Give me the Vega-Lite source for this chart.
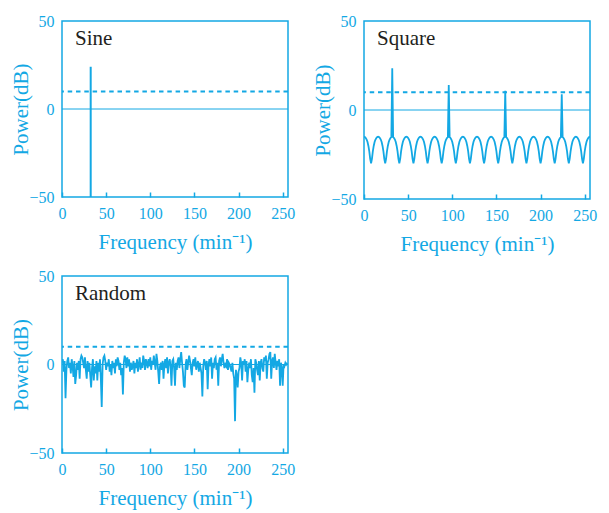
{
  "$schema": "https://vega.github.io/schema/vega-lite/v6.json",
  "padding": {"left": 10, "top": 12, "right": 5, "bottom": 5},
  "background": "white",
  "columns": 2,
  "spacing": {"row": 12, "column": 16},
  "datasets": {
    "sine": [{"f": 32.5, "p": -60}, {"f": 32.5, "p": 24}],
    "square": [
      {"f":0,"p":-15},{"f":1,"p":-15.2},{"f":2,"p":-15.7},{"f":3,"p":-16.6},{"f":4,"p":-18},{"f":5,"p":-20.2},{"f":6,"p":-23.3},{"f":7,"p":-27.5},{"f":8,"p":-30},{"f":9,"p":-27.5},{"f":10,"p":-23.3},{"f":11,"p":-20.2},{"f":12,"p":-18},{"f":13,"p":-16.6},{"f":14,"p":-15.7},{"f":15,"p":-15.2},
      {"f":16,"p":-15},{"f":17,"p":-15.2},{"f":18,"p":-15.7},{"f":19,"p":-16.6},{"f":20,"p":-18},{"f":21,"p":-20.2},{"f":22,"p":-23.3},{"f":23,"p":-27.5},{"f":24,"p":-30},{"f":25,"p":-27.5},{"f":26,"p":-23.3},{"f":27,"p":-20.2},{"f":28,"p":-18},{"f":29,"p":-16.6},{"f":30,"p":-15.7},{"f":31,"p":-15.2},
      {"f":32,"p":23.5},{"f":33,"p":-15.2},{"f":34,"p":-15.7},{"f":35,"p":-16.6},{"f":36,"p":-18},{"f":37,"p":-20.2},{"f":38,"p":-23.3},{"f":39,"p":-27.5},{"f":40,"p":-30},{"f":41,"p":-27.5},{"f":42,"p":-23.3},{"f":43,"p":-20.2},{"f":44,"p":-18},{"f":45,"p":-16.6},{"f":46,"p":-15.7},{"f":47,"p":-15.2},
      {"f":48,"p":-15},{"f":49,"p":-15.2},{"f":50,"p":-15.7},{"f":51,"p":-16.6},{"f":52,"p":-18},{"f":53,"p":-20.2},{"f":54,"p":-23.3},{"f":55,"p":-27.5},{"f":56,"p":-30},{"f":57,"p":-27.5},{"f":58,"p":-23.3},{"f":59,"p":-20.2},{"f":60,"p":-18},{"f":61,"p":-16.6},{"f":62,"p":-15.7},{"f":63,"p":-15.2},
      {"f":64,"p":-15},{"f":65,"p":-15.2},{"f":66,"p":-15.7},{"f":67,"p":-16.6},{"f":68,"p":-18},{"f":69,"p":-20.2},{"f":70,"p":-23.3},{"f":71,"p":-27.5},{"f":72,"p":-30},{"f":73,"p":-27.5},{"f":74,"p":-23.3},{"f":75,"p":-20.2},{"f":76,"p":-18},{"f":77,"p":-16.6},{"f":78,"p":-15.7},{"f":79,"p":-15.2},
      {"f":80,"p":-15},{"f":81,"p":-15.2},{"f":82,"p":-15.7},{"f":83,"p":-16.6},{"f":84,"p":-18},{"f":85,"p":-20.2},{"f":86,"p":-23.3},{"f":87,"p":-27.5},{"f":88,"p":-30},{"f":89,"p":-27.5},{"f":90,"p":-23.3},{"f":91,"p":-20.2},{"f":92,"p":-18},{"f":93,"p":-16.6},{"f":94,"p":-15.7},{"f":95,"p":-15.2},
      {"f":96,"p":14},{"f":97,"p":-15.2},{"f":98,"p":-15.7},{"f":99,"p":-16.6},{"f":100,"p":-18},{"f":101,"p":-20.2},{"f":102,"p":-23.3},{"f":103,"p":-27.5},{"f":104,"p":-30},{"f":105,"p":-27.5},{"f":106,"p":-23.3},{"f":107,"p":-20.2},{"f":108,"p":-18},{"f":109,"p":-16.6},{"f":110,"p":-15.7},{"f":111,"p":-15.2},
      {"f":112,"p":-15},{"f":113,"p":-15.2},{"f":114,"p":-15.7},{"f":115,"p":-16.6},{"f":116,"p":-18},{"f":117,"p":-20.2},{"f":118,"p":-23.3},{"f":119,"p":-27.5},{"f":120,"p":-30},{"f":121,"p":-27.5},{"f":122,"p":-23.3},{"f":123,"p":-20.2},{"f":124,"p":-18},{"f":125,"p":-16.6},{"f":126,"p":-15.7},{"f":127,"p":-15.2},
      {"f":128,"p":-15},{"f":129,"p":-15.2},{"f":130,"p":-15.7},{"f":131,"p":-16.6},{"f":132,"p":-18},{"f":133,"p":-20.2},{"f":134,"p":-23.3},{"f":135,"p":-27.5},{"f":136,"p":-30},{"f":137,"p":-27.5},{"f":138,"p":-23.3},{"f":139,"p":-20.2},{"f":140,"p":-18},{"f":141,"p":-16.6},{"f":142,"p":-15.7},{"f":143,"p":-15.2},
      {"f":144,"p":-15},{"f":145,"p":-15.2},{"f":146,"p":-15.7},{"f":147,"p":-16.6},{"f":148,"p":-18},{"f":149,"p":-20.2},{"f":150,"p":-23.3},{"f":151,"p":-27.5},{"f":152,"p":-30},{"f":153,"p":-27.5},{"f":154,"p":-23.3},{"f":155,"p":-20.2},{"f":156,"p":-18},{"f":157,"p":-16.6},{"f":158,"p":-15.7},{"f":159,"p":-15.2},
      {"f":160,"p":10.8},{"f":161,"p":-15.2},{"f":162,"p":-15.7},{"f":163,"p":-16.6},{"f":164,"p":-18},{"f":165,"p":-20.2},{"f":166,"p":-23.3},{"f":167,"p":-27.5},{"f":168,"p":-30},{"f":169,"p":-27.5},{"f":170,"p":-23.3},{"f":171,"p":-20.2},{"f":172,"p":-18},{"f":173,"p":-16.6},{"f":174,"p":-15.7},{"f":175,"p":-15.2},
      {"f":176,"p":-15},{"f":177,"p":-15.2},{"f":178,"p":-15.7},{"f":179,"p":-16.6},{"f":180,"p":-18},{"f":181,"p":-20.2},{"f":182,"p":-23.3},{"f":183,"p":-27.5},{"f":184,"p":-30},{"f":185,"p":-27.5},{"f":186,"p":-23.3},{"f":187,"p":-20.2},{"f":188,"p":-18},{"f":189,"p":-16.6},{"f":190,"p":-15.7},{"f":191,"p":-15.2},
      {"f":192,"p":-15},{"f":193,"p":-15.2},{"f":194,"p":-15.7},{"f":195,"p":-16.6},{"f":196,"p":-18},{"f":197,"p":-20.2},{"f":198,"p":-23.3},{"f":199,"p":-27.5},{"f":200,"p":-30},{"f":201,"p":-27.5},{"f":202,"p":-23.3},{"f":203,"p":-20.2},{"f":204,"p":-18},{"f":205,"p":-16.6},{"f":206,"p":-15.7},{"f":207,"p":-15.2},
      {"f":208,"p":-15},{"f":209,"p":-15.2},{"f":210,"p":-15.7},{"f":211,"p":-16.6},{"f":212,"p":-18},{"f":213,"p":-20.2},{"f":214,"p":-23.3},{"f":215,"p":-27.5},{"f":216,"p":-30},{"f":217,"p":-27.5},{"f":218,"p":-23.3},{"f":219,"p":-20.2},{"f":220,"p":-18},{"f":221,"p":-16.6},{"f":222,"p":-15.7},{"f":223,"p":-15.2},
      {"f":224,"p":8.8},{"f":225,"p":-15.2},{"f":226,"p":-15.7},{"f":227,"p":-16.6},{"f":228,"p":-18},{"f":229,"p":-20.2},{"f":230,"p":-23.3},{"f":231,"p":-27.5},{"f":232,"p":-30},{"f":233,"p":-27.5},{"f":234,"p":-23.3},{"f":235,"p":-20.2},{"f":236,"p":-18},{"f":237,"p":-16.6},{"f":238,"p":-15.7},{"f":239,"p":-15.2},
      {"f":240,"p":-15},{"f":241,"p":-15.2},{"f":242,"p":-15.7},{"f":243,"p":-16.6},{"f":244,"p":-18},{"f":245,"p":-20.2},{"f":246,"p":-23.3},{"f":247,"p":-27.5},{"f":248,"p":-30},{"f":249,"p":-27.5},{"f":250,"p":-23.3},{"f":251,"p":-20.2},{"f":252,"p":-18},{"f":253,"p":-16.6},{"f":254,"p":-15.7},{"f":255,"p":-15.2},
      {"f":256,"p":-15}
    ],
    "random": [
      {"f":0,"p":1},{"f":1,"p":3},{"f":2,"p":-4},{"f":3,"p":2},{"f":4,"p":-19},{"f":5,"p":-3},{"f":6,"p":2},{"f":7,"p":4},{"f":8,"p":-2},{"f":9,"p":1},{"f":10,"p":-5},{"f":11,"p":3},{"f":12,"p":-1},{"f":13,"p":-7},{"f":14,"p":2},{"f":15,"p":-11},
      {"f":16,"p":-6},{"f":17,"p":1},{"f":18,"p":-3},{"f":19,"p":2},{"f":20,"p":-8},{"f":21,"p":3},{"f":22,"p":5},{"f":23,"p":4},{"f":24,"p":1},{"f":25,"p":-2},{"f":26,"p":4},{"f":27,"p":-3},{"f":28,"p":-8},{"f":29,"p":2},{"f":30,"p":-4},{"f":31,"p":1},
      {"f":32,"p":-6},{"f":33,"p":-13},{"f":34,"p":-2},{"f":35,"p":3},{"f":36,"p":-9},{"f":37,"p":-1},{"f":38,"p":-5},{"f":39,"p":2},{"f":40,"p":-9},{"f":41,"p":1},{"f":42,"p":-4},{"f":43,"p":3},{"f":44,"p":-8},{"f":45,"p":-24},{"f":46,"p":0},{"f":47,"p":4},
      {"f":48,"p":5},{"f":49,"p":2},{"f":50,"p":-3},{"f":51,"p":1},{"f":52,"p":-1},{"f":53,"p":3},{"f":54,"p":-4},{"f":55,"p":0},{"f":56,"p":-6},{"f":57,"p":2},{"f":58,"p":-2},{"f":59,"p":1},{"f":60,"p":-5},{"f":61,"p":3},{"f":62,"p":-1},{"f":63,"p":4},
      {"f":64,"p":2},{"f":65,"p":-3},{"f":66,"p":1},{"f":67,"p":-6},{"f":68,"p":-2},{"f":69,"p":-17},{"f":70,"p":1},{"f":71,"p":5},{"f":72,"p":3},{"f":73,"p":-2},{"f":74,"p":4},{"f":75,"p":-1},{"f":76,"p":3},{"f":77,"p":-4},{"f":78,"p":1},{"f":79,"p":-3},
      {"f":80,"p":-1},{"f":81,"p":2},{"f":82,"p":-5},{"f":83,"p":1},{"f":84,"p":-2},{"f":85,"p":3},{"f":86,"p":-4},{"f":87,"p":0},{"f":88,"p":4},{"f":89,"p":-3},{"f":90,"p":1},{"f":91,"p":-2},{"f":92,"p":5},{"f":93,"p":2},{"f":94,"p":-3},{"f":95,"p":3},
      {"f":96,"p":1},{"f":97,"p":-2},{"f":98,"p":3},{"f":99,"p":-1},{"f":100,"p":4},{"f":101,"p":-3},{"f":102,"p":2},{"f":103,"p":0},{"f":104,"p":5},{"f":105,"p":1},{"f":106,"p":-3},{"f":107,"p":6},{"f":108,"p":2},{"f":109,"p":-4},{"f":110,"p":-11},{"f":111,"p":-1},
      {"f":112,"p":1},{"f":113,"p":-3},{"f":114,"p":2},{"f":115,"p":-8},{"f":116,"p":0},{"f":117,"p":3},{"f":118,"p":-2},{"f":119,"p":4},{"f":120,"p":-5},{"f":121,"p":1},{"f":122,"p":3},{"f":123,"p":-1},{"f":124,"p":-12},{"f":125,"p":2},{"f":126,"p":3},{"f":127,"p":-2},
      {"f":128,"p":-12},{"f":129,"p":1},{"f":130,"p":-3},{"f":131,"p":2},{"f":132,"p":4},{"f":133,"p":-2},{"f":134,"p":3},{"f":135,"p":7},{"f":136,"p":1},{"f":137,"p":-4},{"f":138,"p":-12},{"f":139,"p":-13},{"f":140,"p":0},{"f":141,"p":3},{"f":142,"p":-3},{"f":143,"p":1},
      {"f":144,"p":5},{"f":145,"p":2},{"f":146,"p":-2},{"f":147,"p":-6},{"f":148,"p":1},{"f":149,"p":3},{"f":150,"p":-1},{"f":151,"p":4},{"f":152,"p":-3},{"f":153,"p":0},{"f":154,"p":2},{"f":155,"p":-4},{"f":156,"p":1},{"f":157,"p":-2},{"f":158,"p":-5},{"f":159,"p":-18},
      {"f":160,"p":-1},{"f":161,"p":3},{"f":162,"p":1},{"f":163,"p":-3},{"f":164,"p":2},{"f":165,"p":-14},{"f":166,"p":0},{"f":167,"p":3},{"f":168,"p":-1},{"f":169,"p":4},{"f":170,"p":-8},{"f":171,"p":1},{"f":172,"p":-2},{"f":173,"p":3},{"f":174,"p":4},{"f":175,"p":-3},
      {"f":176,"p":1},{"f":177,"p":-12},{"f":178,"p":2},{"f":179,"p":4},{"f":180,"p":-1},{"f":181,"p":3},{"f":182,"p":6},{"f":183,"p":1},{"f":184,"p":-2},{"f":185,"p":0},{"f":186,"p":-1},{"f":187,"p":3},{"f":188,"p":-3},{"f":189,"p":1},{"f":190,"p":0},{"f":191,"p":-2},
      {"f":192,"p":-4},{"f":193,"p":1},{"f":194,"p":-5},{"f":195,"p":-8},{"f":196,"p":-32},{"f":197,"p":-3},{"f":198,"p":-6},{"f":199,"p":-13},{"f":200,"p":-4},{"f":201,"p":-2},{"f":202,"p":4},{"f":203,"p":1},{"f":204,"p":-9},{"f":205,"p":2},{"f":206,"p":0},{"f":207,"p":3},
      {"f":208,"p":-4},{"f":209,"p":2},{"f":210,"p":-10},{"f":211,"p":-3},{"f":212,"p":1},{"f":213,"p":-2},{"f":214,"p":3},{"f":215,"p":-6},{"f":216,"p":-10},{"f":217,"p":-2},{"f":218,"p":-16},{"f":219,"p":3},{"f":220,"p":1},{"f":221,"p":-3},{"f":222,"p":-6},{"f":223,"p":2},
      {"f":224,"p":-9},{"f":225,"p":1},{"f":226,"p":3},{"f":227,"p":-2},{"f":228,"p":-4},{"f":229,"p":4},{"f":230,"p":2},{"f":231,"p":5},{"f":232,"p":-8},{"f":233,"p":1},{"f":234,"p":3},{"f":235,"p":6},{"f":236,"p":7},{"f":237,"p":-8},{"f":238,"p":2},{"f":239,"p":4},
      {"f":240,"p":-2},{"f":241,"p":6},{"f":242,"p":1},{"f":243,"p":-3},{"f":244,"p":2},{"f":245,"p":-1},{"f":246,"p":3},{"f":247,"p":-12},{"f":248,"p":1},{"f":249,"p":-2},{"f":250,"p":-12},{"f":251,"p":0},{"f":252,"p":-1},{"f":253,"p":1},{"f":254,"p":0},{"f":255,"p":1}
    ],
    "one": [{}]
  },
  "concat": [
    {
      "width": 226, "height": 176,
      "title": {"text": "Sine"},
      "layer": [
        {"data": {"name": "one"}, "mark": {"type": "rule", "color": "#13a8e4", "strokeWidth": 1}, "encoding": {"y": {"datum": 0, "type": "quantitative", "title": "Power(dB)"}}},
        {"data": {"name": "one"}, "mark": {"type": "rule", "color": "#13a8e4", "strokeWidth": 2, "strokeDash": [4.5, 3.8]}, "encoding": {"y": {"datum": 10, "type": "quantitative", "title": "Power(dB)"}}},
        {"data": {"name": "sine"}, "mark": {"type": "line", "color": "#13a8e4", "strokeWidth": 2, "clip": true},
         "encoding": {
           "x": {"field": "f", "type": "quantitative", "scale": {"domain": [0, 256], "nice": false}, "axis": {"values": [0, 50, 100, 150, 200, 250]}, "title": "Frequency (min⁻¹)"},
           "y": {"field": "p", "type": "quantitative", "scale": {"domain": [-50, 50], "nice": false}, "axis": {"values": [-50, 0, 50]}, "title": "Power(dB)"}
         }}
      ]
    },
    {
      "width": 226, "height": 178,
      "title": {"text": "Square"},
      "layer": [
        {"data": {"name": "one"}, "mark": {"type": "rule", "color": "#13a8e4", "strokeWidth": 1}, "encoding": {"y": {"datum": 0, "type": "quantitative", "title": "Power(dB)"}}},
        {"data": {"name": "one"}, "mark": {"type": "rule", "color": "#13a8e4", "strokeWidth": 2, "strokeDash": [4.5, 3.8]}, "encoding": {"y": {"datum": 10, "type": "quantitative", "title": "Power(dB)"}}},
        {"data": {"name": "square"}, "mark": {"type": "line", "color": "#13a8e4", "strokeWidth": 1.8, "clip": true},
         "encoding": {
           "x": {"field": "f", "type": "quantitative", "scale": {"domain": [0, 256], "nice": false}, "axis": {"values": [0, 50, 100, 150, 200, 250]}, "title": "Frequency (min⁻¹)"},
           "y": {"field": "p", "type": "quantitative", "scale": {"domain": [-50, 50], "nice": false}, "axis": {"values": [-50, 0, 50]}, "title": "Power(dB)"}
         }}
      ]
    },
    {
      "width": 226, "height": 177,
      "title": {"text": "Random"},
      "layer": [
        {"data": {"name": "one"}, "mark": {"type": "rule", "color": "#13a8e4", "strokeWidth": 1}, "encoding": {"y": {"datum": 0, "type": "quantitative", "title": "Power(dB)"}}},
        {"data": {"name": "one"}, "mark": {"type": "rule", "color": "#13a8e4", "strokeWidth": 2, "strokeDash": [4.5, 3.8]}, "encoding": {"y": {"datum": 10, "type": "quantitative", "title": "Power(dB)"}}},
        {"data": {"name": "random"}, "mark": {"type": "line", "color": "#13a8e4", "strokeWidth": 1.8, "clip": true},
         "encoding": {
           "x": {"field": "f", "type": "quantitative", "scale": {"domain": [0, 256], "nice": false}, "axis": {"values": [0, 50, 100, 150, 200, 250]}, "title": "Frequency (min⁻¹)"},
           "y": {"field": "p", "type": "quantitative", "scale": {"domain": [-50, 50], "nice": false}, "axis": {"values": [-50, 0, 50]}, "title": "Power(dB)"}
         }}
      ]
    }
  ],
  "config": {
    "font": "Liberation Serif",
    "view": {"stroke": "#13a8e4", "strokeWidth": 1.5},
    "axis": {
      "domain": false, "grid": false,
      "labelFont": "Liberation Serif", "labelFontSize": 16, "labelColor": "#13a8e4",
      "titleFont": "Liberation Serif", "titleFontSize": 21, "titleFontWeight": "normal", "titleColor": "#13a8e4",
      "tickColor": "#13a8e4"
    },
    "axisX": {"tickSize": -5, "tickWidth": 1.5, "labelPadding": 13, "titlePadding": 10, "labelFlush": false},
    "axisY": {"ticks": false, "labelPadding": 8, "titlePadding": -3, "labelFlush": false},
    "title": {"font": "Liberation Serif", "fontSize": 21, "fontWeight": "normal", "color": "#231f20", "anchor": "start", "frame": "group", "offset": -36, "dx": 13, "baseline": "alphabetic"}
  }
}
